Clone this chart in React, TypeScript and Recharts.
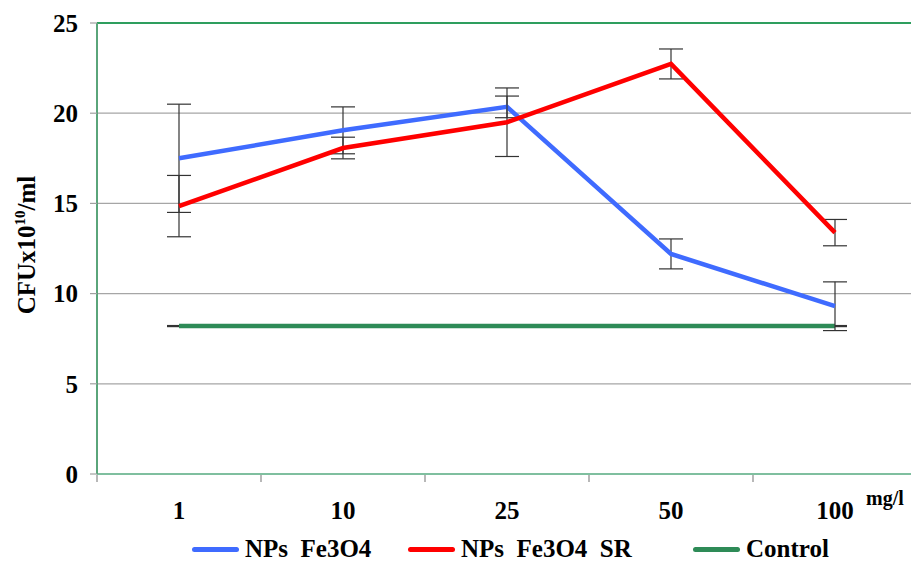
import {
  CartesianGrid,
  ErrorBar,
  Line,
  LineChart,
  ReferenceLine,
  XAxis,
  YAxis,
} from 'recharts'

const CATEGORIES = ['1', '10', '25', '50', '100']
const FE3O4 = [17.5, 19.05, 20.35, 12.2, 9.3]
const FE3O4_ERR = [3.0, 1.3, 0.6, 0.83, 1.35]
const FE3O4_SR = [14.85, 18.07, 19.5, 22.73, 13.38]
const FE3O4_SR_ERR = [1.7, 0.6, 1.9, 0.83, 0.73]
const CONTROL = [8.2, 8.2, 8.2, 8.2, 8.2]
const CONTROL_ERR = [0.03, 0.03, 0.03, 0.03, 0.03]
const Y_TICKS = [0, 5, 10, 15, 20, 25]

const BLUE = '#3f6bff'
const RED = '#ff0000'
const GREEN = '#2e8b57'
const FONT = '"Liberation Serif", "Times New Roman", serif'

const data = CATEGORIES.map((c, i) => ({
  dose: c,
  fe3o4: FE3O4[i],
  fe3o4Err: FE3O4_ERR[i],
  fe3o4sr: FE3O4_SR[i],
  fe3o4srErr: FE3O4_SR_ERR[i],
  control: CONTROL[i],
  controlErr: CONTROL_ERR[i],
}))

// width of one category slot, ticks sit on the slot edges
const BAND = 164

function DoseTick(props: any) {
  const { x, y, payload } = props
  return (
    <g>
      <line x1={x - BAND / 2} x2={x - BAND / 2} y1={y + 1} y2={y + 8} stroke="#a0a0a0" strokeWidth={1.5} />
      <text x={x} y={y + 45} textAnchor="middle" fontFamily={FONT} fontWeight="bold" fontSize={25} fill="#000">
        {payload.value}
      </text>
    </g>
  )
}

function YLabel() {
  return (
    <text
      x={35}
      y={245}
      transform="rotate(-90 35 245)"
      textAnchor="middle"
      fontFamily={FONT}
      fontWeight="bold"
      fontSize={25}
      fill="#000"
    >
      CFUx10
      <tspan dy={-10} fontSize={15}>10</tspan>
      <tspan dy={10}>/ml</tspan>
    </text>
  )
}

function UnitLabel() {
  return (
    <text x={866} y={505} fontFamily={FONT} fontWeight="bold" fontSize={20} fill="#000">
      mg/l
    </text>
  )
}

const legendItems = [
  { name: 'NPs  Fe3O4', color: BLUE, left: 192 },
  { name: 'NPs  Fe3O4  SR', color: RED, left: 408 },
  { name: 'Control', color: GREEN, left: 693 },
]

export default function App() {
  return (
    <div style={{ position: 'absolute', left: 0, top: 0, width: 911, height: 561, overflow: 'hidden', background: '#fff' }}>
      <LineChart width={930} height={561} data={data} margin={{ top: 23, right: 13, left: 0, bottom: 0 }}>
        <CartesianGrid horizontal vertical={false} stroke="#a6a6a6" strokeWidth={1.2} />
        <ReferenceLine y={25} stroke="#2e9e5e" strokeWidth={2} />
        <XAxis
          dataKey="dose"
          height={87}
          padding={{ left: BAND / 2, right: BAND / 2 }}
          axisLine={{ stroke: '#7fbf9f', strokeWidth: 2 }}
          tickLine={false}
          tickSize={0}
          tickMargin={0}
          tick={<DoseTick />}
          interval={0}
          label={<UnitLabel />}
        />
        <YAxis
          width={97}
          domain={[0, 25]}
          ticks={Y_TICKS}
          axisLine={{ stroke: '#5aa57a', strokeWidth: 2 }}
          tickLine={{ stroke: '#a0a0a0', strokeWidth: 1.2 }}
          tickSize={7}
          tickMargin={12}
          tick={{ fontFamily: FONT, fontWeight: 'bold', fontSize: 25, fill: '#000' }}
          label={<YLabel />}
        />
        <Line dataKey="control" stroke={GREEN} strokeWidth={4.5} dot={false} isAnimationActive={false}>
          <ErrorBar dataKey="controlErr" width={12} stroke="#333" strokeWidth={1.2} isAnimationActive={false} />
        </Line>
        <Line dataKey="fe3o4" stroke={BLUE} strokeWidth={4.5} dot={false} isAnimationActive={false}>
          <ErrorBar dataKey="fe3o4Err" width={12} stroke="#333" strokeWidth={1.2} isAnimationActive={false} />
        </Line>
        <Line dataKey="fe3o4sr" stroke={RED} strokeWidth={4.5} dot={false} isAnimationActive={false}>
          <ErrorBar dataKey="fe3o4srErr" width={12} stroke="#333" strokeWidth={1.2} isAnimationActive={false} />
        </Line>
      </LineChart>
      {legendItems.map((item) => (
        <div
          key={item.name}
          style={{ position: 'absolute', left: item.left, top: 534, display: 'flex', alignItems: 'center', whiteSpace: 'pre' }}
        >
          <span style={{ display: 'inline-block', width: 47, height: 5, borderRadius: 3, background: item.color, marginRight: 6 }} />
          <span style={{ fontFamily: FONT, fontWeight: 'bold', fontSize: 25, color: '#000', lineHeight: '30px' }}>
            {item.name}
          </span>
        </div>
      ))}
    </div>
  )
}
